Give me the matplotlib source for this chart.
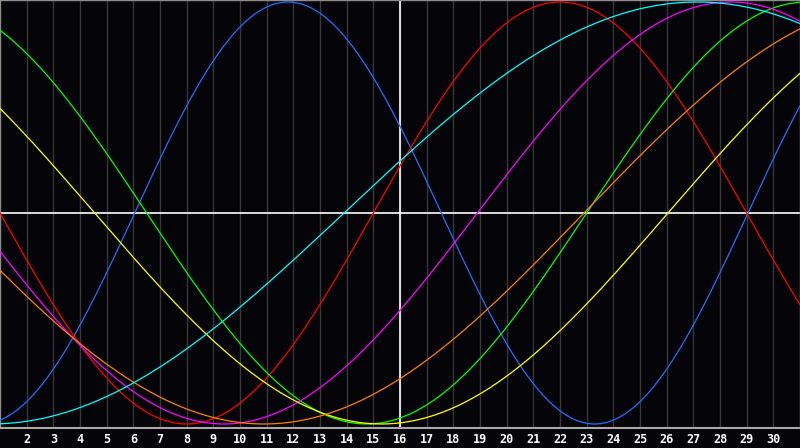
import numpy as np
import matplotlib
matplotlib.use("Agg")
import matplotlib.pyplot as plt

# biorhythm cycles: period (days) and day where the curve crosses zero going up
names = ["physical", "emotional", "intellectual", "intuitive", "aesthetic", "awareness", "spiritual"]
periods = [23, 28, 33, 38, 43, 48, 53]
upcross_day = [6.05, 15.0, 23.0, 18.9, 26.05, 22.9, 13.9]
colors = ["#1f6fff", "#ff0000", "#00ff00", "#ff00ff", "#ffff00", "#ff8000", "#00ffff"]

first_day, last_day = 1, 31
day_labels = list(range(2, 31))
today = 16

bg = "#050509"
grid_c = "#38383b"
frame_c = "#8c8c8c"

fig = plt.figure(figsize=(8, 4.48), dpi=100, facecolor=bg)
ax = fig.add_axes([0, 20 / 448, 1, 428 / 448], facecolor=bg)

# day gridlines
for d in day_labels:
    ax.axvline(d, color=grid_c, lw=1.0, zorder=1)
ax.axvline(today, color="white", lw=1.2, zorder=2)
ax.axhline(0, color="white", lw=1.2, zorder=2)

days = np.linspace(first_day, last_day, 1200)
for p, d0, c in zip(periods, upcross_day, colors):
    ax.plot(days, np.sin(2 * np.pi * (days - d0) / p), color=c, lw=0.9, zorder=3)

ax.set_xlim(first_day, last_day)
ax.set_ylim(-1.019, 1.0095)
ax.set_xticks([])
ax.set_yticks([])
for side in ["top", "left", "right", "bottom"]:
    ax.spines[side].set_color(frame_c)
    ax.spines[side].set_linewidth(1.0)
ax.spines["bottom"].set_color("#a8a8a8")
ax.spines["bottom"].set_linewidth(1.5)

# day numbers under the plot
for d in day_labels:
    ax.text(d, -1.019 - 12 / 211, str(d), color="white", fontsize=8.5,
            fontweight="bold", family="DejaVu Sans Mono",
            ha="center", va="center", clip_on=False)

fig.savefig("out.png", dpi=100, facecolor=bg)
